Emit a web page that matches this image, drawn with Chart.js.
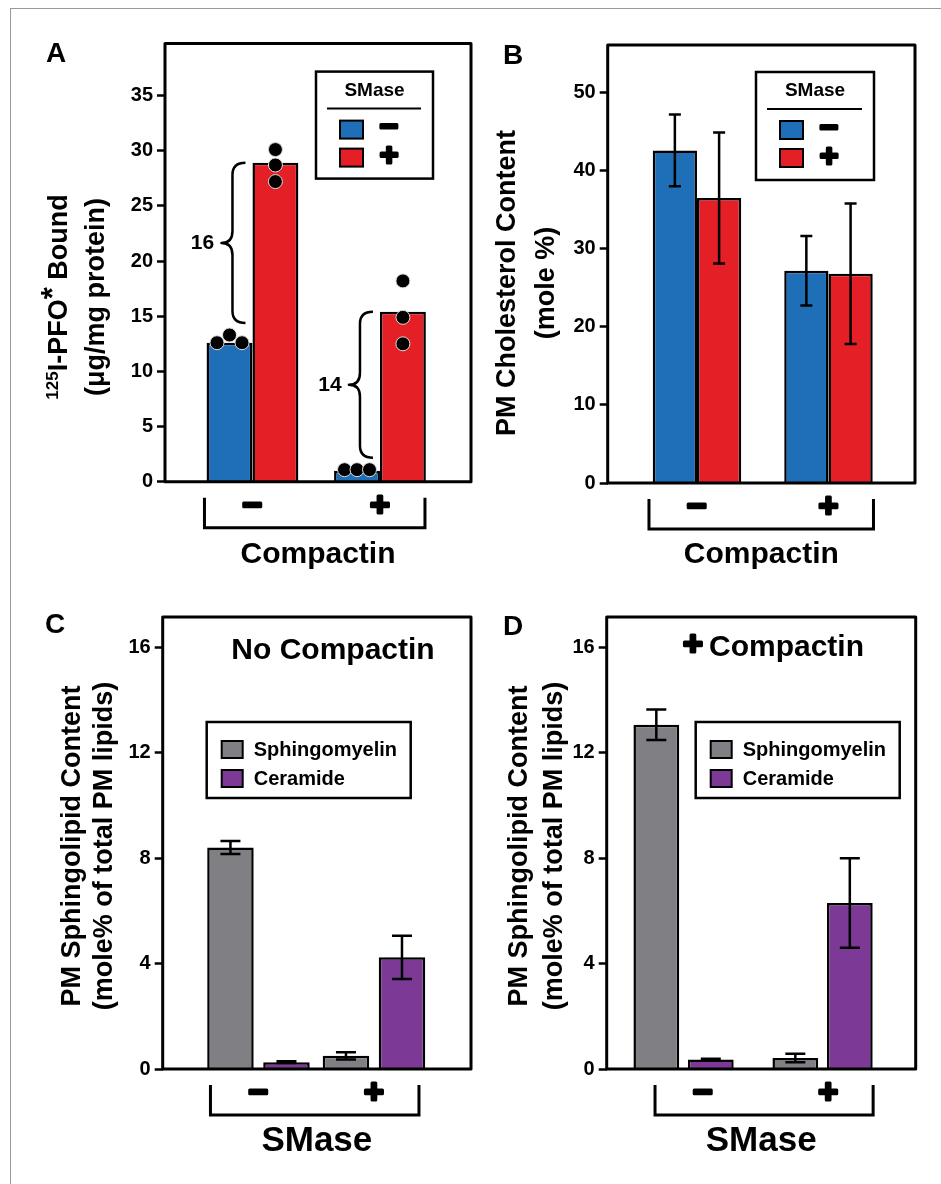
<!DOCTYPE html>
<html>
<head>
<meta charset="utf-8">
<script src="https://cdn.jsdelivr.net/npm/chart.js@4.4.0/dist/chart.umd.min.js"></script>
<style>
body { margin: 0; background: #fff; }
#fig { position: relative; width: 941px; height: 1184px; overflow: hidden; background: #fff; }
#frame { position: absolute; left: 10px; top: 8px; width: 1000px; height: 1300px; border-left: 1px solid #9a9a9a; border-top: 1px solid #9a9a9a; }
canvas { position: absolute; }
</style>
</head>
<body>
<div id="fig">
  <div id="frame"></div>
  <canvas id="pa" width="476" height="590" style="left:0;top:0"></canvas>
  <canvas id="pb" width="465" height="590" style="left:476px;top:0"></canvas>
  <canvas id="pc" width="476" height="594" style="left:0;top:590px"></canvas>
  <canvas id="pd" width="465" height="594" style="left:476px;top:590px"></canvas>
</div>
<script>
const FONT = '"Liberation Sans", Arial, Helvetica, sans-serif';
const BLUE = '#1e6fb8', RED = '#e41f26', GRAY = '#807f84', PURPLE = '#7d3996';

// categories on the x axis
const compactin = ['−', '+'];
const smase = ['−', '+'];
const groupX = [1, 2];

// A: 125I-PFO* bound (ug/mg protein)
const pfoMinus = [12.6, 1.0];
const pfoPlus = [28.9, 15.4];
const pfoMinusReps = [[12.6, 13.3, 12.6], [1.1, 1.1, 1.1]];
const pfoPlusReps = [[30.1, 28.7, 27.2], [18.2, 14.9, 12.5]];

// B: PM cholesterol (mole %)
const cholMinus = [42.6, 27.2];
const cholMinusErr = [4.6, 4.45];
const cholPlus = [36.5, 26.8];
const cholPlusErr = [8.4, 9.0];

// C: no compactin, sphingolipids (mole % of PM lipids)
const smNoComp = [8.41, 0.50];
const smNoCompErr = [0.25, 0.14];
const cerNoComp = [0.26, 4.24];
const cerNoCompErr = [0.03, 0.82];

// D: + compactin
const smComp = [13.07, 0.42];
const smCompErr = [0.58, 0.16];
const cerComp = [0.36, 6.30];
const cerCompErr = [0.03, 1.70];

function bold(size) { return 'bold ' + size + 'px ' + FONT; }

function heavyText(ctx, txt, x, y, size, align) {
    ctx.font = bold(size);
    ctx.textAlign = align || 'center';
    ctx.textBaseline = 'middle';
    ctx.lineWidth = 3;
    ctx.lineJoin = 'round';
    ctx.strokeStyle = '#000';
    ctx.fillStyle = '#000';
    ctx.strokeText(txt, x, y);
    ctx.fillText(txt, x, y);
}

function rotLine(ctx, segs, cx, cy) {
    ctx.save();
    ctx.translate(cx, cy);
    ctx.rotate(-Math.PI / 2);
    ctx.textAlign = 'left';
    ctx.textBaseline = 'middle';
    ctx.fillStyle = '#000';
    let total = 0;
    segs.forEach(s => { ctx.font = bold(s.size); s.w = ctx.measureText(s.text).width; total += s.w; });
    let x = -total / 2;
    segs.forEach(s => {
        ctx.font = bold(s.size);
        ctx.fillText(s.text, x, -(s.raise || 0));
        x += s.w;
    });
    ctx.restore();
}

function brace(ctx, xr, y1, y2) {
    const xb = xr - 13, xp = xr - 24, ym = (y1 + y2) / 2, r = 12;
    ctx.beginPath();
    ctx.moveTo(xr, y1);
    ctx.quadraticCurveTo(xb, y1, xb, y1 + r);
    ctx.lineTo(xb, ym - r);
    ctx.quadraticCurveTo(xb, ym, xp, ym);
    ctx.quadraticCurveTo(xb, ym, xb, ym + r);
    ctx.lineTo(xb, y2 - r);
    ctx.quadraticCurveTo(xb, y2, xr, y2);
    ctx.lineWidth = 2.5;
    ctx.strokeStyle = '#000';
    ctx.stroke();
}

const panelPlugin = {
    id: 'panel',
    beforeDraw(chart) {
        // round joins for the stroked -/+ tick glyphs
        chart.ctx.lineJoin = 'round';
    },
    afterDatasetsDraw(chart, args, o) {
        const ctx = chart.ctx;
        const ca = chart.chartArea;
        const ys = chart.scales.y, xs = chart.scales.x;
        ctx.save();

        // error bars
        chart.data.datasets.forEach((ds, i) => {
            if (!ds.err) return;
            chart.getDatasetMeta(i).data.forEach((bar, j) => {
                const v = ds.data[j], e = ds.err[j];
                const yt = ys.getPixelForValue(v + e), yb = ys.getPixelForValue(v - e);
                ctx.beginPath();
                ctx.moveTo(bar.x, yt); ctx.lineTo(bar.x, yb);
                ctx.moveTo(bar.x - o.cap, yt); ctx.lineTo(bar.x + o.cap, yt);
                ctx.moveTo(bar.x - o.cap, yb); ctx.lineTo(bar.x + o.cap, yb);
                ctx.lineWidth = 2.5;
                ctx.strokeStyle = '#000';
                ctx.stroke();
            });
        });

        // replicate dots
        chart.data.datasets.forEach((ds, i) => {
            if (!ds.reps) return;
            chart.getDatasetMeta(i).data.forEach((bar, j) => {
                const n = ds.reps[j].length;
                ds.reps[j].forEach((v, k) => {
                    const x = bar.x + (k - (n - 1) / 2) * ds.spread;
                    ctx.beginPath();
                    ctx.arc(x, ys.getPixelForValue(v), 7, 0, Math.PI * 2);
                    ctx.fillStyle = '#000';
                    ctx.fill();
                    ctx.lineWidth = 1;
                    ctx.strokeStyle = '#ddd';
                    ctx.stroke();
                });
            });
        });

        // braces with the difference between the two SMase bars
        if (o.braces) {
            const lo = chart.data.datasets[0], hi = chart.data.datasets[1];
            chart.getDatasetMeta(1).data.forEach((bar, j) => {
                const left = bar.x - bar.width / 2;
                const yTop = bar.y;
                const yBot = ys.getPixelForValue(Math.max(...lo.reps[j])) - 12;
                brace(ctx, left - 7, yTop, yBot);
                ctx.font = bold(21);
                ctx.fillStyle = '#000';
                ctx.textAlign = 'center';
                ctx.textBaseline = 'middle';
                ctx.fillText(String(Math.round(hi.data[j] - lo.data[j])), left - 50, (yTop + yBot) / 2);
            });
        }

        // plot frame
        ctx.lineWidth = 3;
        ctx.strokeStyle = '#000';
        ctx.strokeRect(ca.left, ca.top, ca.right - ca.left, ca.bottom - ca.top);

        // bracket under the x axis
        const t0 = xs.getPixelForValue(xs.ticks[0].value), t1 = xs.getPixelForValue(xs.ticks[1].value);
        ctx.beginPath();
        ctx.moveTo(t0 - 48, ca.bottom + 16);
        ctx.lineTo(t0 - 48, ca.bottom + 46);
        ctx.lineTo(t1 + 45, ca.bottom + 46);
        ctx.lineTo(t1 + 45, ca.bottom + 16);
        ctx.lineWidth = 3;
        ctx.lineJoin = 'miter';
        ctx.stroke();

        // legend
        const L = o.legend;
        const bx = L.left !== undefined ? ca.left + L.left : ca.right - L.right - L.w;
        const by = ca.top + L.top;
        ctx.lineWidth = 2.5;
        ctx.strokeRect(bx, by, L.w, L.h);
        const dsets = chart.data.datasets;
        if (L.title) {
            ctx.font = bold(19);
            ctx.fillStyle = '#000';
            ctx.textAlign = 'center';
            ctx.textBaseline = 'middle';
            ctx.fillText(L.title, bx + L.w / 2, by + 19);
            ctx.beginPath();
            ctx.moveTo(bx + 11, by + 37); ctx.lineTo(bx + L.w - 12, by + 37);
            ctx.lineWidth = 2;
            ctx.stroke();
            dsets.forEach((ds, i) => {
                const sy = by + 49 + i * 28;
                ctx.fillStyle = ds.backgroundColor;
                ctx.fillRect(bx + 24, sy, 23, 18);
                ctx.lineWidth = 2;
                ctx.strokeRect(bx + 24, sy, 23, 18);
                heavyText(ctx, ds.label, bx + 73, sy + 8, 32);
                ctx.lineJoin = 'miter';
            });
        } else {
            dsets.forEach((ds, i) => {
                const sy = by + 19 + i * 29;
                ctx.fillStyle = ds.backgroundColor;
                ctx.fillRect(bx + 15, sy, 21, 17);
                ctx.lineWidth = 2;
                ctx.strokeRect(bx + 15, sy, 21, 17);
                ctx.font = bold(20);
                ctx.fillStyle = '#000';
                ctx.textAlign = 'left';
                ctx.textBaseline = 'middle';
                ctx.fillText(ds.label, bx + 47, sy + 9);
            });
        }

        // panel letter
        ctx.font = bold(28);
        ctx.fillStyle = '#000';
        ctx.textAlign = 'center';
        ctx.textBaseline = 'middle';
        ctx.fillText(o.letter, o.letterAt[0], o.letterAt[1]);

        // y axis title, two rotated lines
        rotLine(ctx, o.yTitle[0], o.yTitleAt[0], o.yTitleAt[2]);
        rotLine(ctx, o.yTitle[1], o.yTitleAt[1], o.yTitleAt[2]);

        // inner title
        if (o.inner) {
            if (o.inner.plus) heavyText(ctx, '+', o.inner.plus, o.inner.y - 2, 34);
            ctx.font = bold(30);
            ctx.fillStyle = '#000';
            ctx.textAlign = o.inner.align;
            ctx.textBaseline = 'middle';
            ctx.fillText(o.inner.text, o.inner.x, o.inner.y);
        }
        ctx.restore();
    }
};

function seg(text) { return [{ text: text, size: 27 }]; }

function makePanel(id, p) {
    return new Chart(document.getElementById(id), {
        type: 'bar',
        data: { labels: groupX, datasets: p.datasets },
        options: {
            responsive: false,
            animation: false,
            devicePixelRatio: 1,
            layout: { padding: { left: 0, top: p.top, right: p.right, bottom: 0 } },
            scales: {
                x: {
                    type: 'linear',
                    min: p.xMin,
                    max: p.xMax,
                    offset: false,
                    grid: { display: false, drawTicks: false },
                    border: { display: false },
                    afterBuildTicks: axis => { axis.ticks = p.labelAt.map(v => ({ value: v })); },
                    afterFit: axis => { axis.height = p.xH; },
                    ticks: {
                        callback: (v, i) => p.cats[i],
                        font: { family: FONT, size: 34, weight: 'bold' },
                        color: '#000',
                        textStrokeColor: '#000',
                        textStrokeWidth: 3,
                        padding: 4,
                        maxRotation: 0,
                        autoSkip: false
                    },
                    title: {
                        display: true,
                        text: p.xTitle,
                        color: '#000',
                        font: { family: FONT, size: p.xTitleSize, weight: 'bold' },
                        padding: { top: 0, bottom: p.xTitlePad }
                    }
                },
                y: {
                    min: 0,
                    max: p.yMax,
                    grid: { display: true, drawOnChartArea: false, drawTicks: true, tickLength: 8, tickWidth: 2.5, tickColor: '#000' },
                    border: { display: false },
                    afterFit: axis => { axis.width = p.yW; },
                    ticks: {
                        stepSize: p.step,
                        includeBounds: false,
                        color: '#000',
                        padding: 4,
                        font: { family: FONT, size: 20, weight: 'bold' }
                    }
                }
            },
            plugins: {
                legend: { display: false },
                tooltip: { enabled: false },
                panel: p.panel
            }
        },
        plugins: [panelPlugin]
    });
}

function barSet(label, data, color, cat, bar, extra) {
    return Object.assign({
        label: label,
        data: data,
        backgroundColor: color,
        borderColor: '#000',
        borderWidth: 2.5,
        categoryPercentage: cat,
        barPercentage: bar
    }, extra || {});
}

makePanel('pa', {
    datasets: [
        barSet('−', pfoMinus, BLUE, 0.72, 1.0, { reps: pfoMinusReps, spread: 12.5 }),
        barSet('+', pfoPlus, RED, 0.72, 1.0, { reps: pfoPlusReps, spread: 0 })
    ],
    cats: compactin, labelAt: [1, 2],
    xMin: 0.314, xMax: 2.714, yMax: 39.7, step: 5,
    top: 43.6, right: 5, yW: 165, xH: 108.2,
    xTitle: 'Compactin', xTitleSize: 30, xTitlePad: 17,
    panel: {
        letter: 'A', letterAt: [56, 54], braces: true, cap: 6,
        yTitle: [[{ text: '125', size: 17, raise: 7 }, { text: 'I-PFO', size: 27 }, { text: '*', size: 31, raise: 6 }, { text: ' Bound', size: 27 }],
                 seg('(μg/mg protein)')],
        yTitleAt: [60, 97, 297],
        legend: { title: 'SMase', right: 38, top: 28, w: 117, h: 107 }
    }
});

makePanel('pb', {
    datasets: [
        barSet('−', cholMinus, BLUE, 0.673, 1.0, { err: cholMinusErr }),
        barSet('+', cholPlus, RED, 0.673, 1.0, { err: cholPlusErr })
    ],
    cats: compactin, labelAt: [1, 2],
    xMin: 0.321, xMax: 2.658, yMax: 56.1, step: 10,
    top: 45, right: 26, yW: 131.7, xH: 107,
    xTitle: 'Compactin', xTitleSize: 30, xTitlePad: 17,
    panel: {
        letter: 'B', letterAt: [37, 56], cap: 6,
        yTitle: [seg('PM Cholesterol Content'), seg('(mole %)')],
        yTitleAt: [32, 71, 283],
        legend: { title: 'SMase', right: 41, top: 27, w: 118, h: 108 }
    }
});

makePanel('pc', {
    datasets: [
        barSet('Sphingomyelin', smNoComp, GRAY, 0.97, 0.83, { err: smNoCompErr }),
        barSet('Ceramide', cerNoComp, PURPLE, 0.97, 0.83, { err: cerNoCompErr })
    ],
    cats: smase, labelAt: [1, 2],
    xMin: 0.171, xMax: 2.84, yMax: 17.16, step: 4,
    top: 27, right: 5, yW: 162.7, xH: 115,
    xTitle: 'SMase', xTitleSize: 35, xTitlePad: 22,
    panel: {
        letter: 'C', letterAt: [55, 35], cap: 10,
        yTitle: [seg('PM Sphingolipid Content'), seg('(mole% of total PM lipids)')],
        yTitleAt: [73, 105, 256],
        legend: { left: 44, top: 105, w: 204, h: 76 },
        inner: { text: 'No Compactin', x: 333, y: 61, align: 'center' }
    }
});

makePanel('pd', {
    datasets: [
        barSet('Sphingomyelin', smComp, GRAY, 0.871, 0.84, { err: smCompErr }),
        barSet('Ceramide', cerComp, PURPLE, 0.871, 0.84, { err: cerCompErr })
    ],
    cats: smase, labelAt: [1.14, 2.04],
    xMin: 0.447, xMax: 2.67, yMax: 17.16, step: 4,
    top: 27, right: 25.3, yW: 130.7, xH: 115,
    xTitle: 'SMase', xTitleSize: 35, xTitlePad: 22,
    panel: {
        letter: 'D', letterAt: [37, 37], cap: 10,
        yTitle: [seg('PM Sphingolipid Content'), seg('(mole% of total PM lipids)')],
        yTitleAt: [44, 79, 256],
        legend: { left: 89, top: 105, w: 204, h: 76 },
        inner: { text: 'Compactin', plus: 217, x: 233, y: 58, align: 'left' }
    }
});
</script>
</body>
</html>
